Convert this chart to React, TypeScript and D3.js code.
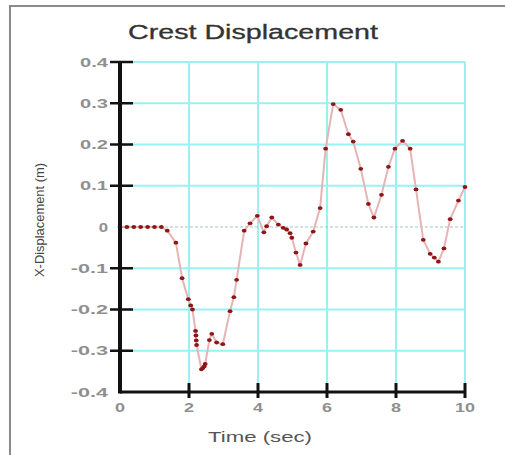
import React from "react";
import * as d3 from "d3";

const times = [0,0.2,0.4,0.6,0.8,1.0,1.2,1.37,1.62,1.8,1.98,2.05,2.1,2.19,2.2,2.21,2.22,2.36,2.4,2.44,2.47,2.59,2.66,2.8,2.98,3.19,3.3,3.38,3.6,3.77,3.98,4.17,4.25,4.4,4.59,4.73,4.83,4.93,4.98,5.1,5.22,5.39,5.6,5.8,5.96,6.18,6.4,6.62,6.76,6.98,7.2,7.36,7.58,7.78,7.97,8.19,8.41,8.58,8.79,8.99,9.11,9.23,9.39,9.57,9.81,10.0];
const displacement = [0,0,0,0,0,0,0,-0.009,-0.038,-0.124,-0.175,-0.19,-0.2,-0.252,-0.263,-0.275,-0.286,-0.345,-0.342,-0.338,-0.332,-0.274,-0.259,-0.28,-0.284,-0.204,-0.17,-0.128,-0.009,0.009,0.027,-0.013,0.002,0.023,0.006,-0.002,-0.006,-0.015,-0.026,-0.062,-0.092,-0.04,-0.011,0.046,0.19,0.298,0.284,0.225,0.207,0.141,0.056,0.023,0.078,0.146,0.19,0.209,0.19,0.091,-0.031,-0.065,-0.074,-0.084,-0.052,0.019,0.064,0.097];
const xTicks = [0,2,4,6,8,10];
const yTicks = [0.4,0.3,0.2,0.1,0,-0.1,-0.2,-0.3,-0.4];
const yTickLabels = ["0.4","0.3","0.2","0.1","0","-0.1","-0.2","-0.3","-0.4"];
const title = "Crest Displacement";
const xLabel = "Time (sec)";
const yLabel = "X-Displacement (m)";

export default function App() {
  const x = d3.scaleLinear().domain([0, 10]).range([120, 465]);
  const y = d3.scaleLinear().domain([-0.4, 0.4]).range([392, 62]);
  const pts = times.map((t, i) => [t, displacement[i]] as [number, number]);
  const line = d3.line<[number, number]>().x(d => x(d[0])).y(d => y(d[1]));
  const font = "Arial, 'Liberation Sans', sans-serif";
  const grid = "#9af1f1";
  return (
    <svg width={505} height={455} style={{ position: "absolute", left: 0, top: 0, background: "#fff" }}>
      <rect width={505} height={455} fill="#fff" />
      <path d="M10,455 V6 H505" fill="none" stroke="#8a8a8a" strokeWidth={2} />
      <text x={253} y={39} textAnchor="middle" fontFamily={font} fontSize={20} fill="#333"
        stroke="#333" strokeWidth={0.3}
        textLength={250} lengthAdjust="spacingAndGlyphs">{title}</text>
      {xTicks.filter(t => t > 0).map(t => (
        <line key={"gx" + t} x1={x(t)} x2={x(t)} y1={y(0.4)} y2={y(-0.4)} stroke={grid} strokeWidth={2} />
      ))}
      {yTicks.filter(v => v > -0.4 && v !== 0).map(v => (
        <line key={"gy" + v} x1={x(0)} x2={x(10)} y1={y(v)} y2={y(v)} stroke={grid} strokeWidth={2} />
      ))}
      <line x1={x(0)} x2={x(10)} y1={y(0)} y2={y(0)} stroke="#a9c4c4" strokeWidth={1.2} strokeDasharray="3,2" />
      <path d={line(pts) || ""} fill="none" stroke="#e6b4b4" strokeWidth={2} />
      {pts.map((p, i) => (
        <ellipse key={"m" + i} cx={x(p[0])} cy={y(p[1])} rx={2.4} ry={1.9} fill="#8e1616" />
      ))}
      <line x1={x(0)} x2={x(0)} y1={y(0.4)} y2={y(-0.4) + 1.5} stroke="#111" strokeWidth={4} />
      <line x1={x(0)} x2={x(10)} y1={y(-0.4)} y2={y(-0.4)} stroke="#111" strokeWidth={3} />
      {yTicks.filter(v => v !== 0 && v > -0.4).map(v => (
        <line key={"ty" + v} x1={110} x2={133} y1={y(v)} y2={y(v)} stroke="#111" strokeWidth={2.5} />
      ))}
      {xTicks.filter(t => t > 0).map(t => (
        <line key={"tx" + t} x1={x(t)} x2={x(t)} y1={y(-0.4) - 9} y2={y(-0.4) + 6} stroke="#111" strokeWidth={3} />
      ))}
      {yTicks.map((v, i) => {
        const lbl = yTickLabels[i];
        return (
          <text key={"ly" + v} x={108} y={y(v) + 4.5} textAnchor="end" fontFamily={font} fontSize={13}
            fontWeight="bold" fill="#8f8f8f" textLength={lbl.length * 9.3} lengthAdjust="spacingAndGlyphs">{lbl}</text>
        );
      })}
      {xTicks.map(t => {
        const lbl = String(t);
        return (
          <text key={"lx" + t} x={x(t)} y={412} textAnchor="middle" fontFamily={font} fontSize={13}
            fontWeight="bold" fill="#8f8f8f" textLength={lbl.length * 10} lengthAdjust="spacingAndGlyphs">{lbl}</text>
        );
      })}
      <text x={260} y={442} textAnchor="middle" fontFamily={font} fontSize={15} fill="#555"
        textLength={104} lengthAdjust="spacingAndGlyphs">{xLabel}</text>
      <text transform="translate(44,220) rotate(-90)" textAnchor="middle" fontFamily={font} fontSize={12.5}
        fill="#444" textLength={114} lengthAdjust="spacingAndGlyphs">{yLabel}</text>
    </svg>
  );
}
